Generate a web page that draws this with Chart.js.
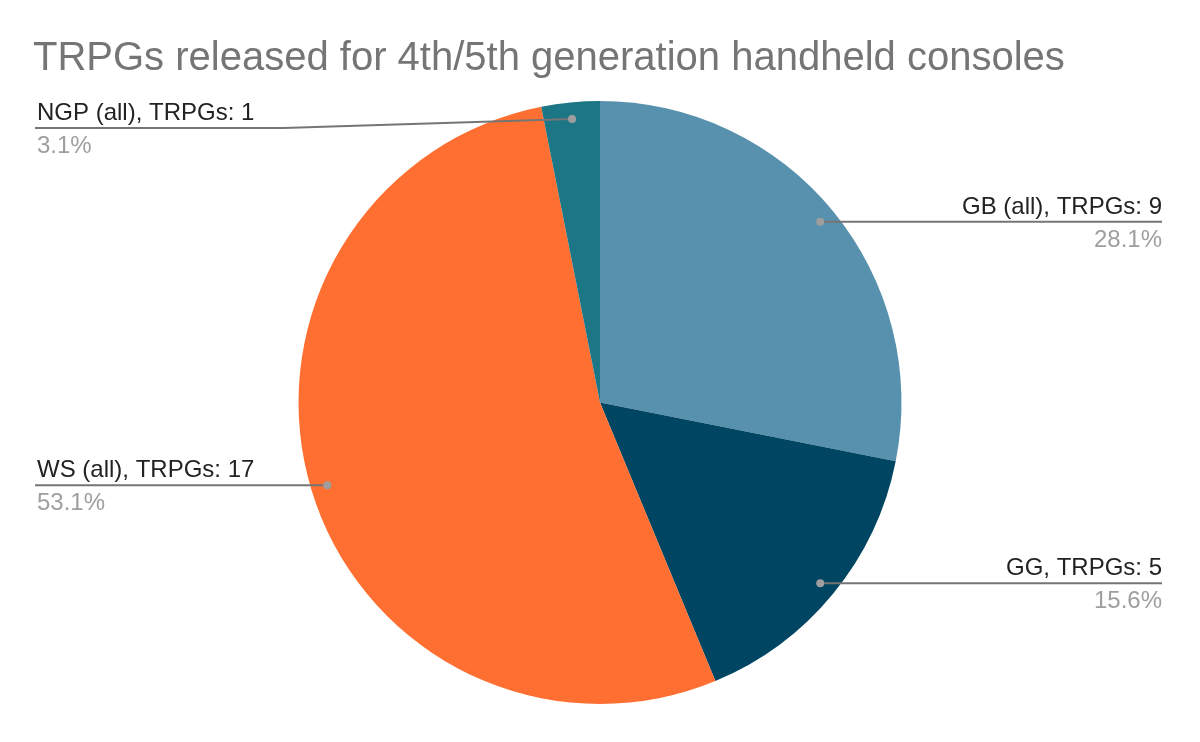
<!DOCTYPE html>
<html>
<head>
<meta charset="utf-8">
<title>TRPGs released for 4th/5th generation handheld consoles</title>
<script src="https://cdn.jsdelivr.net/npm/chart.js@4.4.1/dist/chart.umd.min.js"></script>
<style>
  html, body { margin: 0; padding: 0; background: #fff; }
  #wrap { width: 1200px; height: 742px; }
</style>
</head>
<body>
<div id="wrap"><canvas id="pieChart" width="1200" height="742"></canvas></div>
<script>
const chartTitle = 'TRPGs released for 4th/5th generation handheld consoles';
const categories = ['GB (all)', 'GG', 'WS (all)', 'NGP (all)'];
const trpgCounts = [9, 5, 17, 1];
const sliceColors = ['#5891ad', '#004561', '#ff6f31', '#1c7685'];

const FONT = '"Liberation Sans", Arial, sans-serif';

// labels with leader lines, drawn like the google-sheets style
const leaderLabels = {
  id: 'leaderLabels',
  afterDraw(chart) {
    const { ctx } = chart;
    const meta = chart.getDatasetMeta(0);
    const total = trpgCounts.reduce((a, b) => a + b, 0);

    ctx.save();
    // title
    ctx.font = '40px ' + FONT;
    ctx.fillStyle = '#757575';
    ctx.textAlign = 'left';
    ctx.textBaseline = 'alphabetic';
    ctx.fillText(chartTitle, 33, 70);

    meta.data.forEach((arc, i) => {
      const p = arc.getProps(['x', 'y', 'startAngle', 'endAngle', 'outerRadius'], true);
      const mid = (p.startAngle + p.endAngle) / 2;
      const r = p.outerRadius * 0.945;
      const dx = p.x + Math.cos(mid) * r;
      const dy = p.y + Math.sin(mid) * r;
      const right = Math.cos(mid) >= 0;
      const lineY = Math.max(dy, 128);
      const endX = right ? 1162 : 35;
      let elbowX = dx;
      if (lineY !== dy) elbowX = right ? p.x + p.outerRadius + 15 : p.x - p.outerRadius - 15;

      ctx.strokeStyle = '#757575';
      ctx.lineWidth = 2;
      ctx.beginPath();
      ctx.moveTo(dx, dy);
      ctx.lineTo(elbowX, lineY);
      ctx.lineTo(endX, lineY);
      ctx.stroke();

      ctx.fillStyle = '#9e9e9e';
      ctx.beginPath();
      ctx.arc(dx, dy, 4, 0, Math.PI * 2);
      ctx.fill();

      ctx.textAlign = right ? 'right' : 'left';
      const tx = right ? 1162 : 37;
      ctx.font = '24px ' + FONT;
      ctx.fillStyle = '#222222';
      ctx.fillText(categories[i] + ', TRPGs: ' + trpgCounts[i], tx, lineY - 8);
      ctx.fillStyle = '#9e9e9e';
      ctx.fillText((trpgCounts[i] / total * 100).toFixed(1) + '%', tx, lineY + 25);
    });
    ctx.restore();
  }
};

new Chart(document.getElementById('pieChart'), {
  type: 'pie',
  data: {
    labels: categories,
    datasets: [{
      label: 'TRPGs',
      data: trpgCounts,
      backgroundColor: sliceColors,
      borderWidth: 0,
      hoverOffset: 0
    }]
  },
  options: {
    responsive: false,
    animation: false,
    layout: { padding: { top: 101, bottom: 38, left: 200, right: 200 } },
    plugins: {
      legend: { display: false },
      title: { display: false },
      tooltip: { enabled: false }
    }
  },
  plugins: [leaderLabels]
});
</script>
</body>
</html>
